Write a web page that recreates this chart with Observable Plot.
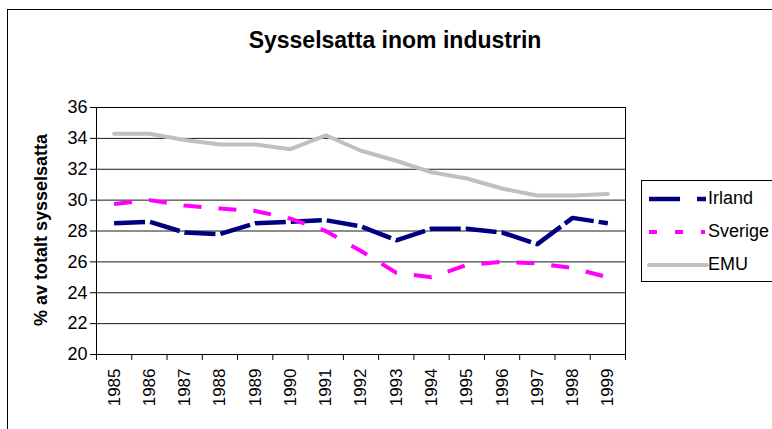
<!DOCTYPE html>
<html>
<head>
<meta charset="utf-8">
<script src="https://cdn.jsdelivr.net/npm/d3@7"></script>
<script src="https://cdn.jsdelivr.net/npm/@observablehq/plot@0.6"></script>
<style>
  html, body { margin: 0; padding: 0; background: #fff; width: 772px; height: 429px; overflow: hidden; }
  #wrap { position: relative; width: 772px; height: 429px; font-family: "Liberation Sans", Arial, sans-serif; }
  #outer { position: absolute; left: 7px; top: 9px; width: 900px; height: 600px; border: 1.5px solid #000; box-sizing: border-box; }
  #chart { position: absolute; left: 0; top: 0; }
  #title { position: absolute; left: 0; width: 790px; top: 27px; text-align: center; font-weight: bold; font-size: 23px; color: #000; }
  #ylabel { position: absolute; left: 41px; top: 230px; transform: translate(-50%, -50%) rotate(-90deg); white-space: nowrap; font-weight: bold; font-size: 18px; color: #000; }
  #legend { position: absolute; left: 641px; top: 180px; width: 200px; height: 102px; border: 1.5px solid #000; box-sizing: border-box; background: #fff; }
  .li { position: absolute; left: 0; height: 30px; }
  .li svg { position: absolute; left: 5px; top: 0; }
  .li span { position: absolute; left: 66px; top: 4px; font-size: 18px; color: #000; }
</style>
</head>
<body>
<div id="wrap">
  <div id="outer"></div>
  <div id="chart"></div>
  <div id="title">Sysselsatta inom industrin</div>
  <div id="ylabel">% av totalt sysselsatta</div>
  <div id="legend"></div>
</div>
<script>
const years = ["1985","1986","1987","1988","1989","1990","1991","1992","1993","1994","1995","1996","1997","1998","1999"];
const irland  = [28.5, 28.6, 27.9, 27.8, 28.5, 28.6, 28.7, 28.3, 27.4, 28.15, 28.15, 27.9, 27.15, 28.85, 28.5];
const sverige = [29.75, 30.0, 29.65, 29.45, 29.3, 28.8, 28.0, 26.7, 25.3, 25.0, 25.8, 26.0, 25.9, 25.6, 25.0];
const emu     = [34.3, 34.3, 33.9, 33.6, 33.6, 33.3, 34.2, 33.2, 32.55, 31.8, 31.4, 30.75, 30.3, 30.3, 30.4];
const yTicks = [20, 22, 24, 26, 28, 30, 32, 34, 36];
const seriesNames = ["Irland", "Sverige", "EMU"];
const seriesColors = ["#000080", "#ff00ff", "#c0c0c0"];

const rows = (vals) => years.map((y, i) => ({i: i + 0.5, year: y, v: vals[i]}));
const edges = d3.range(years.length + 1);

const chart = Plot.plot({
  width: 772,
  height: 429,
  marginTop: 107,
  marginBottom: 75,
  marginLeft: 96,
  marginRight: 147,
  style: {background: "transparent", overflow: "visible", fontFamily: "'Liberation Sans', Arial, sans-serif", color: "#000"},
  x: {domain: [0, years.length]},
  y: {domain: [20, 36]},
  marks: [
    Plot.gridY(yTicks, {stroke: "#1a1a1a", strokeOpacity: 1, strokeWidth: 1}),
    Plot.frame({stroke: "#000", strokeWidth: 1}),
    Plot.axisY(yTicks, {tickSize: 6, tickPadding: 3, fontSize: 18, label: null, stroke: "#000"}),
    Plot.axisX(edges, {tickSize: 6, tickFormat: () => "", label: null, stroke: "#000"}),
    Plot.text(rows(irland), {x: "i", y: 20, text: "year", rotate: -90, textAnchor: "end", dy: 14, fontSize: 17, fill: "#000"}),
    Plot.lineY(rows(irland), {x: "i", y: "v", stroke: seriesColors[0], strokeWidth: 4.5, strokeDasharray: "31,5", strokeLinecap: "butt", strokeLinejoin: "round"}),
    Plot.lineY(rows(sverige), {x: "i", y: "v", stroke: seriesColors[1], strokeWidth: 4, strokeDasharray: "18,17", strokeLinecap: "butt", strokeLinejoin: "round"}),
    Plot.lineY(rows(emu), {x: "i", y: "v", stroke: seriesColors[2], strokeWidth: 4, strokeLinecap: "round", strokeLinejoin: "round"})
  ]
});
document.getElementById("chart").appendChild(chart);

// legend
const legendDash = ["31,17,9,100", "8,18,8,18,4,100", null];
const legendWidths = [4.5, 4, 4];
const legend = document.getElementById("legend");
seriesNames.forEach((name, k) => {
  const item = document.createElement("div");
  item.className = "li";
  item.style.top = (3 + k * 33) + "px";
  const dash = legendDash[k] ? `stroke-dasharray="${legendDash[k]}"` : "";
  const cap = legendDash[k] ? "butt" : "round";
  item.innerHTML = `<svg width="62" height="30"><line x1="2" x2="60" y1="15" y2="15" stroke="${seriesColors[k]}" stroke-width="${legendWidths[k]}" ${dash} stroke-linecap="${cap}"/></svg><span>${name}</span>`;
  legend.appendChild(item);
});
</script>
</body>
</html>
